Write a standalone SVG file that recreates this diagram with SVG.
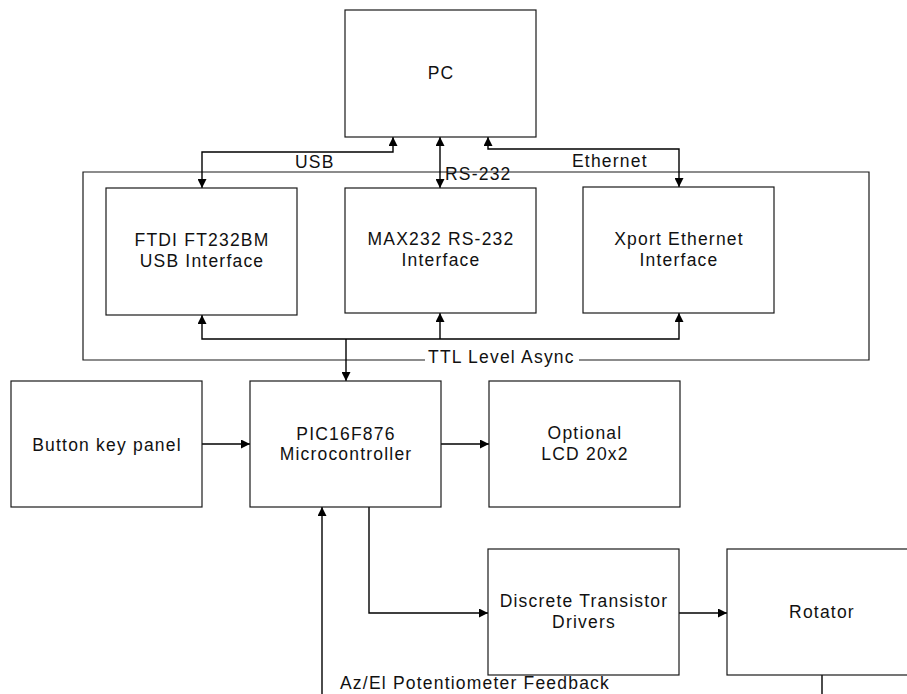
<svg xmlns="http://www.w3.org/2000/svg" width="907" height="694" viewBox="0 0 907 694">
<style>
  .box { fill: #fff; stroke: #1a1a1a; stroke-width: 1.2; }
  .cont { fill: none; stroke: #1a1a1a; stroke-width: 1.2; }
  .ln { fill: none; stroke: #000; stroke-width: 1.4; }
  text { font-family: "Liberation Sans", Arial, sans-serif; font-size: 17.5px; letter-spacing: 1.2px; fill: #111; }
  .c { text-anchor: middle; }
</style>
<defs>
  <marker id="arr" viewBox="0 0 10 10" refX="10" refY="5" markerWidth="10" markerHeight="9" markerUnits="userSpaceOnUse" orient="auto-start-reverse">
    <path d="M0,0 L10,5 L0,10 Z" fill="#000"/>
  </marker>
</defs>
<rect width="907" height="694" fill="#fff"/>

<g id="container">
  <path class="cont" d="M425,360 L83,360 L83,172 L869,172 L869,360 L579,360"/>
  <text x="428" y="363">TTL Level Async</text>
</g>

<g id="connectors">
  <path class="ln" d="M393,137 L393,152 L202,152 L202,188" marker-start="url(#arr)" marker-end="url(#arr)"/>
  <path class="ln" d="M440,137 L440,188" marker-start="url(#arr)" marker-end="url(#arr)"/>
  <path class="ln" d="M488,137 L488,149 L679,149 L679,187" marker-start="url(#arr)" marker-end="url(#arr)"/>
  <path class="ln" d="M202,315 L202,339 L679,339 L679,313" marker-start="url(#arr)" marker-end="url(#arr)"/>
  <path class="ln" d="M440,339 L440,313" marker-end="url(#arr)"/>
  <path class="ln" d="M346,339 L346,381" marker-end="url(#arr)"/>
  <path class="ln" d="M202,444 L250,444" marker-end="url(#arr)"/>
  <path class="ln" d="M441,444 L489,444" marker-end="url(#arr)"/>
  <path class="ln" d="M322,694 L322,507" marker-end="url(#arr)"/>
  <path class="ln" d="M369,507 L369,613 L488,613" marker-end="url(#arr)"/>
  <path class="ln" d="M679,613 L727,613" marker-end="url(#arr)"/>
  <path class="ln" d="M822,675 L822,694"/>
  <text x="295" y="168">USB</text>
  <text x="445" y="180">RS-232</text>
  <text x="572" y="167">Ethernet</text>
  <text x="340" y="689">Az/El Potentiometer Feedback</text>
</g>

<g id="pc">
  <rect class="box" x="345" y="10" width="191" height="127"/>
  <text class="c" x="441" y="79">PC</text>
</g>
<g id="ftdi">
  <rect class="box" x="106" y="188" width="191" height="127"/>
  <text class="c" x="202" y="246">FTDI FT232BM</text>
  <text class="c" x="202" y="267">USB Interface</text>
</g>
<g id="max232">
  <rect class="box" x="345" y="188" width="191" height="125"/>
  <text class="c" x="441" y="245">MAX232 RS-232</text>
  <text class="c" x="441" y="266">Interface</text>
</g>
<g id="xport">
  <rect class="box" x="583" y="187" width="191" height="126"/>
  <text class="c" x="679" y="245">Xport Ethernet</text>
  <text class="c" x="679" y="266">Interface</text>
</g>
<g id="button">
  <rect class="box" x="11" y="381" width="191" height="126"/>
  <text class="c" x="107" y="451">Button key panel</text>
</g>
<g id="pic">
  <rect class="box" x="250" y="381" width="191" height="126"/>
  <text class="c" x="346" y="440">PIC16F876</text>
  <text class="c" x="346" y="460">Microcontroller</text>
</g>
<g id="lcd">
  <rect class="box" x="489" y="381" width="191" height="126"/>
  <text class="c" x="585" y="439">Optional</text>
  <text class="c" x="585" y="460">LCD 20x2</text>
</g>
<g id="drivers">
  <rect class="box" x="488" y="549" width="191" height="126"/>
  <text class="c" x="584" y="607">Discrete Transistor</text>
  <text class="c" x="584" y="628">Drivers</text>
</g>
<g id="rotator">
  <rect class="box" x="727" y="549" width="191" height="126"/>
  <text class="c" x="822" y="618">Rotator</text>
</g>
</svg>
